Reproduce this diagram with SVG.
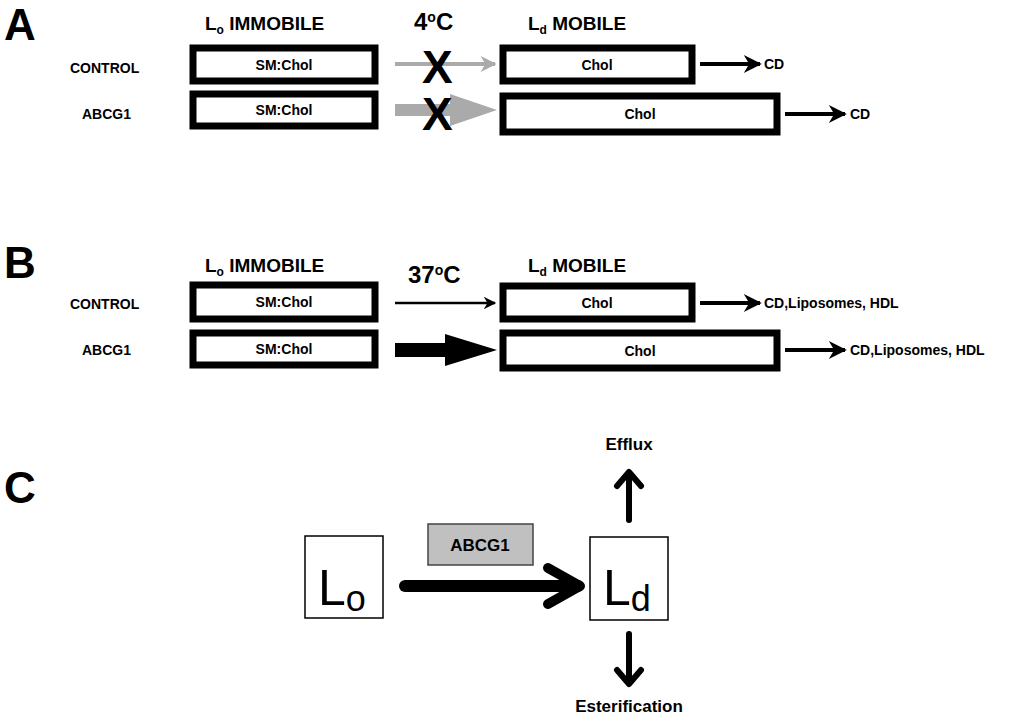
<svg xmlns="http://www.w3.org/2000/svg" width="1024" height="718" viewBox="0 0 1024 718">
<style>
text{font-family:"Liberation Sans",Arial,sans-serif;font-weight:bold;fill:#000}
.big{font-size:44px}
.hd{font-size:19px}
.lb{font-size:14px}
.in{font-size:14px}
.bx{fill:#fff;stroke:#000;stroke-width:7}
.sq{fill:#fff;stroke:#000;stroke-width:1.5}
.x{font-size:46px}
</style>
<defs>
<marker id="ah" viewBox="0 0 10 10" refX="9" refY="5" markerWidth="6.5" markerHeight="4.5" orient="auto" markerUnits="strokeWidth"><path d="M0,0 L10,5 L0,10 L3,5 z" fill="#000"/></marker>
<marker id="ah2" viewBox="0 0 10 10" refX="9" refY="5" markerWidth="6" markerHeight="5" orient="auto" markerUnits="strokeWidth"><path d="M0,0 L10,5 L0,10 L3,5 z" fill="#000"/></marker>
<marker id="ahg" viewBox="0 0 10 10" refX="9" refY="5" markerWidth="6" markerHeight="4" orient="auto" markerUnits="strokeWidth"><path d="M0,0 L10,5 L0,10 L3,5 z" fill="#aaa"/></marker>
</defs>
<text class="big" x="4" y="40">A</text>
<text class="big" x="4" y="278">B</text>
<text class="big" x="4" y="503">C</text>
<g id="headersA">
<text class="hd" x="205" y="30">L<tspan font-size="12" dy="4">o</tspan><tspan dy="-4"> IMMOBILE</tspan></text>
<text x="414" y="30" font-size="24">4<tspan font-size="14" dy="-8">o</tspan><tspan dy="8">C</tspan></text>
<text class="hd" x="528" y="30">L<tspan font-size="12" dy="4">d</tspan><tspan dy="-4">  MOBILE</tspan></text>
<text class="lb" x="70" y="73">CONTROL</text>
<text class="lb" x="82" y="119">ABCG1</text>
</g>
<g id="headersB">
<text class="hd" x="205" y="272">L<tspan font-size="12" dy="4">o</tspan><tspan dy="-4"> IMMOBILE</tspan></text>
<text x="408" y="283" font-size="24">37<tspan font-size="14" dy="-8">o</tspan><tspan dy="8">C</tspan></text>
<text class="hd" x="528" y="272">L<tspan font-size="12" dy="4">d</tspan><tspan dy="-4">  MOBILE</tspan></text>
<text class="lb" x="70" y="309">CONTROL</text>
<text class="lb" x="82" y="355">ABCG1</text>
</g>
<g id="A-lo-control"><rect class="bx" x="193" y="48" width="182" height="33"/><text class="in" x="284" y="70" text-anchor="middle">SM:Chol</text></g>
<g id="A-lo-abcg1"><rect class="bx" x="193" y="94" width="182" height="32"/><text class="in" x="284" y="115" text-anchor="middle">SM:Chol</text></g>
<g id="A-ld-control"><rect class="bx" x="503" y="48" width="189" height="33"/><text class="in" x="597" y="70" text-anchor="middle">Chol</text></g>
<g id="A-ld-abcg1"><rect class="bx" x="503" y="96" width="274" height="36"/><text class="in" x="640" y="119" text-anchor="middle">Chol</text></g>
<g id="B-lo-control"><rect class="bx" x="193" y="285" width="182" height="34"/><text class="in" x="284" y="307" text-anchor="middle">SM:Chol</text></g>
<g id="B-lo-abcg1"><rect class="bx" x="193" y="333" width="182" height="32"/><text class="in" x="284" y="354" text-anchor="middle">SM:Chol</text></g>
<g id="B-ld-control"><rect class="bx" x="503" y="286" width="189" height="33"/><text class="in" x="597" y="308" text-anchor="middle">Chol</text></g>
<g id="B-ld-abcg1"><rect class="bx" x="503" y="333" width="274" height="35"/><text class="in" x="640" y="356" text-anchor="middle">Chol</text></g>
<g id="C-lo"><rect class="sq" x="305" y="536" width="78" height="82"/><text x="318" y="605" font-size="50" style="font-weight:normal">L<tspan font-size="36" dy="6">o</tspan></text></g>
<g id="C-abcg1"><rect x="428" y="524" width="105" height="41" fill="#c0c0c0" stroke="#444" stroke-width="1.5"/><text x="480" y="551" font-size="17" text-anchor="middle">ABCG1</text></g>
<g id="C-ld"><rect class="sq" x="590" y="537" width="78" height="83"/><text x="603" y="605" font-size="50" style="font-weight:normal">L<tspan font-size="36" dy="6">d</tspan></text></g>
<g id="C-labels"><text x="629" y="450" text-anchor="middle" font-size="17">Efflux</text><text x="629" y="712" text-anchor="middle" font-size="17">Esterification</text></g>
<g id="connectors">
<line x1="395" y1="64" x2="495" y2="64" stroke="#aaa" stroke-width="4" marker-end="url(#ahg)"/>
<path d="M395,104 L450,104 L450,94 L497,110 L450,126 L450,116 L395,116 z" fill="#aaa"/>
<text class="x" x="422" y="83">X</text>
<text class="x" x="422" y="130">X</text>
<line x1="700" y1="64" x2="760" y2="64" stroke="#000" stroke-width="4" marker-end="url(#ah)"/>
<text class="lb" x="764" y="69">CD</text>
<line x1="785" y1="114" x2="845" y2="114" stroke="#000" stroke-width="4" marker-end="url(#ah)"/>
<text class="lb" x="850" y="119">CD</text>
<line x1="395" y1="303" x2="495" y2="303" stroke="#000" stroke-width="2.5" marker-end="url(#ah2)"/>
<path d="M395,343 L445,343 L445,334 L497,350 L445,366 L445,357 L395,357 z" fill="#000"/>
<line x1="700" y1="303" x2="760" y2="303" stroke="#000" stroke-width="4" marker-end="url(#ah)"/>
<text class="lb" x="764" y="308">CD,Liposomes, HDL</text>
<line x1="785" y1="350" x2="845" y2="350" stroke="#000" stroke-width="4" marker-end="url(#ah)"/>
<text class="lb" x="850" y="355">CD,Liposomes, HDL</text>
<g fill="none" stroke="#000" stroke-linecap="round" stroke-linejoin="round">
<line x1="405" y1="586" x2="578" y2="586" stroke-width="12"/>
<polyline points="548,568 580,586 548,604" stroke-width="10"/>
<line x1="629" y1="520" x2="629" y2="474" stroke-width="6"/>
<polyline points="617,486 629,472 641,486" stroke-width="6"/>
<line x1="629" y1="634" x2="629" y2="682" stroke-width="6"/>
<polyline points="617,670 629,684 641,670" stroke-width="6"/>
</g>
</g>
</svg>
